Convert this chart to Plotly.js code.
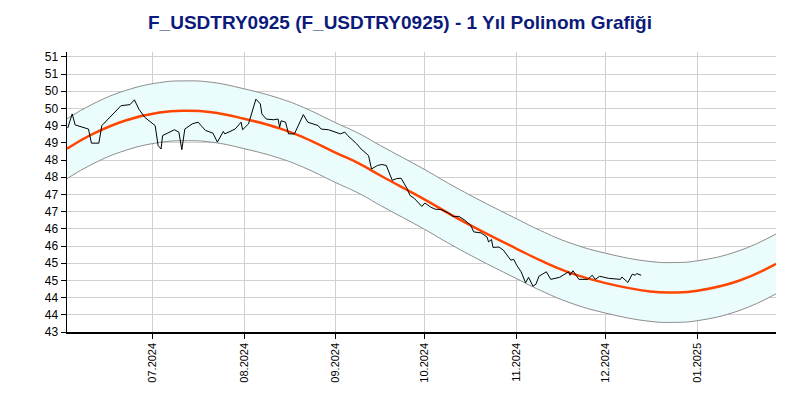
<!DOCTYPE html>
<html>
<head>
<meta charset="utf-8">
<script src="https://cdn.plot.ly/plotly-3.0.1.min.js"></script>
<style>html,body{margin:0;padding:0;background:#fff;}#chart{width:800px;height:400px;}</style>
</head>
<body>
<div id="chart"></div>
<script>
// Price series
var priceDates = ['2024-06-02 12:00','2024-06-04','2024-06-05','2024-06-06 12:00','2024-06-09 12:00','2024-06-10 12:00','2024-06-13','2024-06-14','2024-06-20 12:00','2024-06-23 12:00','2024-06-25','2024-06-26 12:00','2024-06-28 12:00','2024-07-02','2024-07-03','2024-07-04','2024-07-04 12:00','2024-07-08 12:00','2024-07-10','2024-07-11','2024-07-12','2024-07-14 12:00','2024-07-16 12:00','2024-07-17 12:00','2024-07-19','2024-07-21 12:00','2024-07-23','2024-07-25','2024-07-25 12:00','2024-07-29','2024-07-31','2024-07-31 12:00','2024-08-02 12:00','2024-08-05','2024-08-06 12:00','2024-08-07','2024-08-08 12:00','2024-08-11','2024-08-12 12:00','2024-08-13','2024-08-13 12:00','2024-08-15','2024-08-16','2024-08-18','2024-08-21','2024-08-22 12:00','2024-08-26','2024-08-27','2024-08-29 12:00','2024-09-02 12:00','2024-09-04','2024-09-05','2024-09-08','2024-09-09 12:00','2024-09-11 12:00','2024-09-12','2024-09-13','2024-09-15','2024-09-16 12:00','2024-09-18','2024-09-20','2024-09-21 12:00','2024-09-23','2024-09-25','2024-09-26','2024-09-27 12:00','2024-09-30','2024-10-01','2024-10-03','2024-10-04 12:00','2024-10-06 12:00','2024-10-09','2024-10-10 12:00','2024-10-12 12:00','2024-10-14 12:00','2024-10-16 12:00','2024-10-17 12:00','2024-10-20','2024-10-22','2024-10-22 12:00','2024-10-23 12:00','2024-10-24','2024-10-26','2024-10-27 12:00','2024-10-30','2024-10-31','2024-11-01','2024-11-02 12:00','2024-11-04','2024-11-05','2024-11-06 12:00','2024-11-07 12:00','2024-11-08 12:00','2024-11-11','2024-11-12 12:00','2024-11-14','2024-11-15 12:00','2024-11-18 12:00','2024-11-19','2024-11-20','2024-11-22','2024-11-25','2024-11-26 12:00','2024-11-27 12:00','2024-11-29','2024-12-02','2024-12-06','2024-12-06 12:00','2024-12-08 12:00','2024-12-10','2024-12-11','2024-12-11 12:00','2024-12-13'];
var priceValues = [48.93,49.34,49.02,48.98,48.90,48.49,48.49,49.00,49.58,49.61,49.75,49.48,49.24,49.00,48.42,48.32,48.71,48.88,48.81,48.30,48.90,49.05,49.10,49.00,48.86,48.78,48.52,48.83,48.76,48.90,49.10,48.88,49.05,49.77,49.63,49.34,49.19,49.17,49.19,48.95,49.14,49.10,48.76,48.76,49.32,49.10,49.00,48.90,48.88,48.76,48.81,48.71,48.47,48.32,48.18,48.13,47.74,47.84,47.87,47.84,47.41,47.46,47.47,47.17,46.97,46.88,46.65,46.75,46.63,46.57,46.56,46.46,46.36,46.36,46.25,46.10,45.91,45.88,45.76,45.62,45.69,45.46,45.47,45.38,45.09,45.11,44.94,44.75,44.43,44.59,44.33,44.39,44.62,44.75,44.53,44.56,44.59,44.75,44.65,44.78,44.53,44.53,44.65,44.53,44.62,44.56,44.53,44.60,44.44,44.68,44.65,44.70,44.65];

// Polynomial fit and its band
var fitDates = ['2024-06-02 06:00','2024-06-11','2024-06-22','2024-07-03 12:00','2024-07-12','2024-07-21','2024-08-01','2024-08-13','2024-08-21','2024-09-01','2024-09-09','2024-09-16','2024-10-01','2024-10-09','2024-10-20','2024-11-01','2024-11-09','2024-11-19','2024-12-01','2024-12-16','2024-12-24','2025-01-01','2025-01-15','2025-01-27 12:00'];
var fitCenter = [48.33,48.76,49.15,49.38,49.43,49.39,49.20,48.92,48.66,48.21,47.89,47.55,46.85,46.45,45.94,45.42,45.08,44.72,44.42,44.18,44.15,44.20,44.49,44.98];
var fitUpper = [49.20,49.63,50.02,50.25,50.30,50.26,50.07,49.79,49.53,49.08,48.76,48.42,47.72,47.32,46.81,46.29,45.95,45.59,45.29,45.05,45.02,45.07,45.36,45.85];
var fitLower = [47.46,47.89,48.28,48.51,48.56,48.52,48.33,48.05,47.79,47.34,47.02,46.68,45.98,45.58,45.07,44.55,44.21,43.85,43.55,43.31,43.28,43.33,43.62,44.11];

// Axis ticks
var yTickVals = [43,43.5,44,44.5,45,45.5,46,46.5,47,47.5,48,48.5,49,49.5,50,50.5,51];
var yTickText = ['43','44','44','45','45','46','46','47','47','48','48','49','49','50','50','51','51'];
var xTickVals = ['2024-07-01','2024-08-01','2024-09-01','2024-10-01','2024-11-01','2024-12-01','2025-01-01'];

var titleText = 'F_USDTRY0925 (F_USDTRY0925) - 1 Yıl Polinom Grafiği';

var traces = [
  {x: fitDates, y: fitLower, type: 'scatter', mode: 'lines',
   line: {color: '#8c8c8c', width: 1, shape: 'spline', smoothing: 1.3}, hoverinfo: 'skip'},
  {x: fitDates, y: fitUpper, type: 'scatter', mode: 'lines', fill: 'tonexty',
   fillcolor: '#ebfcfd', line: {color: '#8c8c8c', width: 1, shape: 'spline', smoothing: 1.3}, hoverinfo: 'skip'},
  {x: fitDates, y: fitCenter, type: 'scatter', mode: 'lines',
   line: {color: '#ff4500', width: 2.5, shape: 'spline', smoothing: 1.3}, hoverinfo: 'skip'},
  {x: priceDates, y: priceValues, type: 'scatter', mode: 'lines',
   line: {color: '#000000', width: 1}, hoverinfo: 'skip'}
];

var layout = {
  width: 800, height: 400,
  margin: {l: 67, r: 24, t: 52, b: 68},
  paper_bgcolor: '#ffffff', plot_bgcolor: '#ffffff',
  showlegend: false,
  hovermode: false,
  font: {family: 'Liberation Sans, Arial, sans-serif', color: '#000000', size: 12},
  title: {text: '<b>' + titleText + '</b>', x: 0.5, xanchor: 'center', y: 0.945, yanchor: 'middle',
          font: {family: 'Liberation Sans, Arial, sans-serif', size: 19, color: '#0c1a7a'}},
  xaxis: {
    type: 'date',
    range: ['2024-06-02 06:00', '2025-01-27 12:00'],
    tickmode: 'array', tickvals: xTickVals, tickformat: '%m.%Y',
    tickangle: -90, tickfont: {size: 11},
    ticks: 'outside', ticklen: 5, tickcolor: '#000',
    showline: true, linecolor: '#000', linewidth: 1.5,
    showgrid: true, gridcolor: '#d0d0d0', gridwidth: 1,
    zeroline: false, fixedrange: true
  },
  yaxis: {
    range: [43, 51.14],
    tickmode: 'array', tickvals: yTickVals, ticktext: yTickText,
    tickfont: {size: 12},
    ticks: 'outside', ticklen: 5, tickcolor: '#000',
    showline: true, linecolor: '#000', linewidth: 1.5,
    showgrid: true, gridcolor: '#d0d0d0', gridwidth: 1,
    zeroline: false, fixedrange: true
  }
};

Plotly.newPlot('chart', traces, layout, {staticPlot: true, displayModeBar: false});
</script>
</body>
</html>
